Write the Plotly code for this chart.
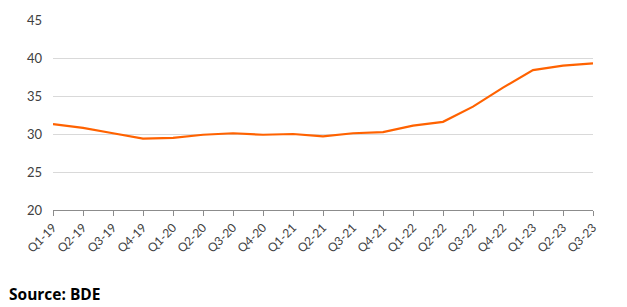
import plotly.graph_objects as go

quarters = ["Q1-19", "Q2-19", "Q3-19", "Q4-19", "Q1-20", "Q2-20", "Q3-20", "Q4-20",
            "Q1-21", "Q2-21", "Q3-21", "Q4-21", "Q1-22", "Q2-22", "Q3-22", "Q4-22",
            "Q1-23", "Q2-23", "Q3-23"]
values = [31.3, 30.8, 30.1, 29.4, 29.5, 29.9, 30.1, 29.9,
          30.0, 29.7, 30.1, 30.25, 31.1, 31.6, 33.6, 36.1,
          38.4, 39.0, 39.3]
y_ticks = [20, 25, 30, 35, 40, 45]

fig = go.Figure()
fig.add_trace(go.Scatter(
    x=list(range(len(quarters))), y=values, mode="lines",
    line=dict(color="#FF6200", width=2.2),
    showlegend=False, hoverinfo="skip"))

fig.update_layout(
    width=627, height=307,
    margin=dict(l=53, r=34, t=20, b=97),
    paper_bgcolor="white", plot_bgcolor="white",
    font=dict(family="Lato, Open Sans, sans-serif", color="#333333"),
    xaxis=dict(
        tickmode="array", tickvals=list(range(len(quarters))), ticktext=quarters,
        range=[0, len(quarters) - 1], tickangle=-45,
        showgrid=False, showline=True, linecolor="#8c8c8c", linewidth=1,
        ticks="outside", ticklen=5, tickcolor="#8c8c8c",
        tickfont=dict(size=12, color="#404040"), zeroline=False),
    yaxis=dict(
        range=[20, 45], tickvals=y_ticks, showgrid=True, gridcolor="#d9d9d9",
        gridwidth=1, showline=False, zeroline=False, ticks="",
        tickfont=dict(size=13, color="#404040"), ticklabelstandoff=10),
    annotations=[dict(
        text="<b>Source: BDE</b>", xref="paper", xanchor="left",
        yref="paper", yanchor="middle", showarrow=False,
        x=-(53 - 7) / 540, y=-(294 - 210) / 190,
        font=dict(family="Open Sans, sans-serif", size=15.5, color="#000000"))],
)
fig.write_html("out.html")
